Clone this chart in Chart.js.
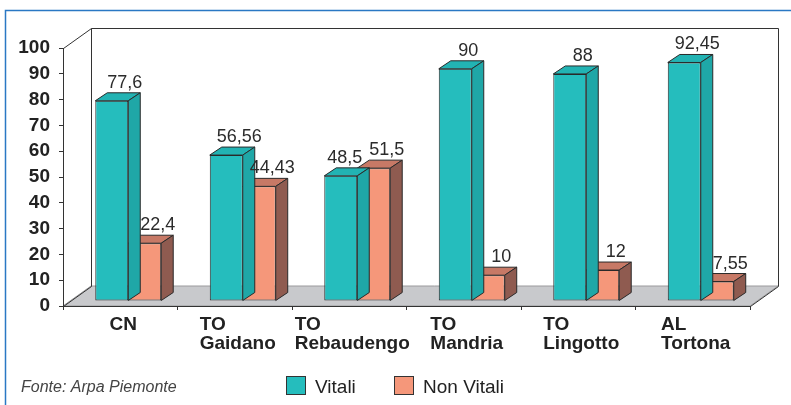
<!DOCTYPE html>
<html>
<head>
<meta charset="utf-8">
<script src="https://cdn.jsdelivr.net/npm/chart.js@4.4.1/dist/chart.umd.min.js"></script>
<style>
    html, body { margin: 0; padding: 0; background: #fff; }
    canvas { display: block; }
</style>
</head>
<body>
<canvas id="grafico" width="791" height="405"></canvas>
<script>
const categorie = [['CN'], ['TO', 'Gaidano'], ['TO', 'Rebaudengo'], ['TO', 'Mandria'], ['TO', 'Lingotto'], ['AL', 'Tortona']];
const vitali = [77.6, 56.56, 48.5, 90, 88, 92.45];
const nonVitali = [22.4, 44.43, 51.5, 10, 12, 7.55];
const nomiSerie = ['Vitali', 'Non Vitali'];
const fonte = 'Fonte: Arpa Piemonte';

const FONT = '"Liberation Sans", Arial, sans-serif';
const PIANO = { dx: 8, dy: -5 };    // spostamento del piano delle barre
const PROF = { dx: 12, dy: -8 };    // profondita' delle barre
const PARETE = { dx: 28, dy: -20 }; // profondita' del pavimento/pareti

function formatta(v) {
    return String(v).replace('.', ',');
}

function poligono(ctx, punti, fill, stroke) {
    ctx.beginPath();
    ctx.moveTo(punti[0][0], punti[0][1]);
    for (let i = 1; i < punti.length; i++) ctx.lineTo(punti[i][0], punti[i][1]);
    ctx.closePath();
    ctx.fillStyle = fill;
    ctx.fill();
    if (stroke) {
        ctx.strokeStyle = stroke;
        ctx.lineWidth = 1;
        ctx.stroke();
    }
}

const sfondo3d = {
    id: 'sfondo3d',
    beforeDraw(chart) {
        const { ctx, chartArea: a } = chart;
        ctx.save();
        // cornice blu
        ctx.strokeStyle = '#2a78c4';
        ctx.lineWidth = 1.5;
        ctx.beginPath();
        ctx.moveTo(791, 10.5);
        ctx.lineTo(5.5, 10.5);
        ctx.lineTo(5.5, 405);
        ctx.stroke();

        // pavimento
        poligono(ctx, [
            [a.left, a.bottom], [a.right, a.bottom],
            [a.right + PARETE.dx, a.bottom + PARETE.dy], [a.left + PARETE.dx, a.bottom + PARETE.dy]
        ], '#c8c9cc', '#9a9a9c');

        // pareti
        ctx.strokeStyle = '#333';
        ctx.lineWidth = 1;
        const L = Math.round(a.left) + 0.5, R = Math.round(a.right) + 0.5;
        const T = Math.round(a.top) + 0.5, B = Math.round(a.bottom) + 0.5;
        ctx.beginPath();
        ctx.moveTo(L, T);
        ctx.lineTo(L + PARETE.dx, T + PARETE.dy);
        ctx.lineTo(R + PARETE.dx, T + PARETE.dy);
        ctx.lineTo(R + PARETE.dx, B + PARETE.dy);
        ctx.lineTo(R, B);
        ctx.moveTo(L + PARETE.dx, T + PARETE.dy);
        ctx.lineTo(L + PARETE.dx, B + PARETE.dy);
        ctx.moveTo(L, B);
        ctx.lineTo(L + PARETE.dx, B + PARETE.dy);
        ctx.stroke();
        ctx.restore();
    }
};

const barre3d = {
    id: 'barre3d',
    beforeDatasetDraw(chart) {
        chart.ctx.save();
        chart.ctx.translate(PIANO.dx, PIANO.dy);
    },
    afterDatasetDraw(chart, args) {
        const ctx = chart.ctx;
        const ds = chart.data.datasets[args.index];
        args.meta.data.forEach(bar => {
            const { x, y, base, width } = bar.getProps(['x', 'y', 'base', 'width'], true);
            const l = x - width / 2, r = x + width / 2;
            poligono(ctx, [[l, y], [l + PROF.dx, y + PROF.dy], [r + PROF.dx, y + PROF.dy], [r, y]], ds.coloreSopra, '#2a2a2a');
            poligono(ctx, [[r, y], [r + PROF.dx, y + PROF.dy], [r + PROF.dx, base + PROF.dy], [r, base]], ds.coloreLato, '#2a2a2a');
        });
        ctx.restore();
    },
    afterDatasetsDraw(chart) {
        const ctx = chart.ctx;
        ctx.save();
        ctx.font = '18px ' + FONT;
        ctx.fillStyle = '#2b2b2b';
        ctx.textAlign = 'center';
        ctx.textBaseline = 'alphabetic';
        const m0 = chart.getDatasetMeta(0).data;
        const m1 = chart.getDatasetMeta(1).data;
        const d0 = chart.data.datasets[0].data;
        const d1 = chart.data.datasets[1].data;
        m0.forEach((b0, j) => {
            const b1 = m1[j];
            const t0 = formatta(d0[j]), t1 = formatta(d1[j]);
            const w0 = ctx.measureText(t0).width, w1 = ctx.measureText(t1).width;
            let x0 = b0.x + PIANO.dx + 13;
            const x1 = b1.x + PIANO.dx + 13;
            const y0 = b0.y + PIANO.dy + PROF.dy - 5;
            const y1 = b1.y + PIANO.dy + PROF.dy - 5;
            // se le etichette si sovrappongono sposto la prima a sinistra
            if (Math.abs(y0 - y1) < 20 && x0 + w0 / 2 > x1 - w1 / 2 - 7) {
                x0 = x1 - w1 / 2 - 7 - w0 / 2;
            }
            ctx.fillText(t0, x0, y0);
            ctx.fillText(t1, x1, y1);
        });
        ctx.restore();
    },
    afterDraw(chart) {
        const ctx = chart.ctx;
        const xs = chart.scales.x;
        ctx.save();
        // etichette categorie
        ctx.font = 'bold 19px ' + FONT;
        ctx.fillStyle = '#222';
        ctx.textAlign = 'left';
        ctx.textBaseline = 'alphabetic';
        categorie.forEach((righe, j) => {
            const w = Math.max(...righe.map(t => ctx.measureText(t).width));
            const x0 = xs.getPixelForValue(j) - w / 2 + 3;
            righe.forEach((t, k) => ctx.fillText(t, x0, 330 + k * 19));
        });

        // legenda
        ctx.font = '19px ' + FONT;
        const posLegenda = [286, 394];
        chart.data.datasets.forEach((ds, i) => {
            const bx = posLegenda[i];
            ctx.fillStyle = ds.backgroundColor;
            ctx.fillRect(bx, 376, 20, 19);
            ctx.strokeStyle = '#333';
            ctx.lineWidth = 1;
            ctx.strokeRect(bx + 0.5, 376.5, 19, 18);
            ctx.fillStyle = '#222';
            ctx.fillText(ds.label, bx + 29, 393);
        });

        // fonte
        ctx.font = 'italic 16px ' + FONT;
        ctx.fillStyle = '#444';
        ctx.fillText(fonte, 21, 392);
        ctx.restore();
    }
};

new Chart(document.getElementById('grafico'), {
    type: 'bar',
    data: {
        labels: categorie,
        datasets: [{
            label: nomiSerie[0],
            data: vitali,
            backgroundColor: '#25bdbd',
            coloreSopra: '#22b3b3',
            coloreLato: '#1fa7a7',
            borderColor: '#2a2a2a',
            borderWidth: 1,
            borderSkipped: false
        }, {
            label: nomiSerie[1],
            data: nonVitali,
            backgroundColor: '#f5977a',
            coloreSopra: '#c77966',
            coloreLato: '#8f5b50',
            borderColor: '#2a2a2a',
            borderWidth: 1,
            borderSkipped: false
        }]
    },
    options: {
        responsive: false,
        devicePixelRatio: 1,
        animation: false,
        clip: false,
        categoryPercentage: 0.576,
        barPercentage: 1,
        layout: { padding: { top: 48, right: 41, bottom: 49, left: 0 } },
        plugins: {
            legend: { display: false },
            tooltip: { enabled: false }
        },
        scales: {
            x: {
                offset: true,
                grid: { offset: true, drawOnChartArea: false, tickLength: 4, color: '#333' },
                border: { color: '#333' },
                ticks: { display: false },
                afterFit(scale) { scale.height = 50; }
            },
            y: {
                min: 0,
                max: 100,
                ticks: {
                    stepSize: 10,
                    padding: 9,
                    color: '#222',
                    font: { family: FONT, size: 19, weight: 'bold' }
                },
                grid: { drawOnChartArea: false, tickLength: 4, color: '#333' },
                border: { color: '#333' },
                afterFit(scale) { scale.width = 63; }
            }
        }
    },
    plugins: [sfondo3d, barre3d]
});
</script>
</body>
</html>
